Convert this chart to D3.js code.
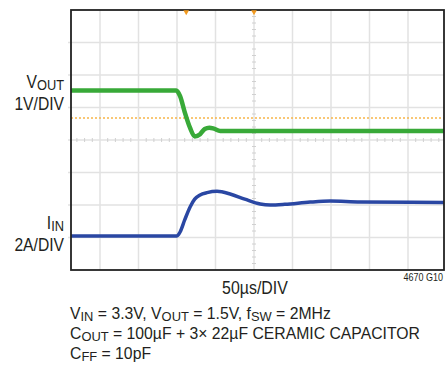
<!DOCTYPE html>
<html>
<head>
<meta charset="utf-8">
<script src="https://cdn.jsdelivr.net/npm/d3@7"></script>
<style>
  body { margin: 0; background: #fff; }
  text { font-family: "Liberation Sans", Arial, sans-serif; fill: #231f20; }
</style>
</head>
<body>
<div id="chart"></div>
<script>
// time in µs (50µs/DIV), trace levels in screen divisions (VOUT 1V/DIV, IIN 2A/DIV)
const voutTime = [0, 149, 154, 160, 167, 173, 180, 186, 192, 198, 206, 300, 500];
const voutDiv  = [5.52, 5.52, 5.35, 4.86, 4.37, 4.11, 4.18, 4.34, 4.38, 4.35, 4.28, 4.28, 4.28];

const iinTime = [0, 150, 154, 160, 167, 173, 180, 189, 202, 219, 238, 258, 271, 290, 323, 349, 388, 500];
const iinDiv  = [1.05, 1.05, 1.17, 1.54, 1.94, 2.18, 2.31, 2.38, 2.42, 2.34, 2.18, 2.03, 2.0, 2.02, 2.09, 2.12, 2.09, 2.08];

const cursorTimes = [162, 250];
const refLevelDiv = 4.68;
const gridTimes = [50, 100, 150, 200, 250, 300, 350, 400, 450];
const gridDivs = [1, 2, 3, 4, 5, 6, 7];

const width = 448, height = 369;
const frame = { left: 71, right: 444, top: 10, bottom: 270 };

const svg = d3.select("#chart").append("svg")
  .attr("width", width)
  .attr("height", height);

const x = d3.scaleLinear().domain([0, 500]).range([61.5, 446.5]);
const y = d3.scaleLinear().domain([0, 8]).range([frame.bottom, frame.top]);

svg.append("clipPath").attr("id", "plot-clip")
  .append("rect")
  .attr("x", frame.left).attr("y", frame.top - 2)
  .attr("width", frame.right - frame.left).attr("height", frame.bottom - frame.top + 4);

// grid
const grid = svg.append("g").attr("stroke", "#e2e2e2").attr("stroke-width", 1.5);
grid.selectAll(".vg").data(gridTimes).enter().append("line")
  .attr("x1", d => x(d)).attr("x2", d => x(d))
  .attr("y1", frame.top).attr("y2", frame.bottom);
grid.selectAll(".hg").data(gridDivs).enter().append("line")
  .attr("x1", frame.left - 3).attr("x2", frame.right)
  .attr("y1", d => y(d)).attr("y2", d => y(d));

// minor ticks on the center lines
const minorT = d3.range(10, 500, 10).filter(d => d % 50 !== 0 && x(d) > frame.left);
const minorD = d3.range(0.2, 8, 0.2).filter(d => Math.abs(d - Math.round(d)) > 0.01);
const ticks = svg.append("g").attr("stroke", "#d0d0d0").attr("stroke-width", 1);
ticks.selectAll(".mt").data(minorT).enter().append("line")
  .attr("x1", d => x(d)).attr("x2", d => x(d))
  .attr("y1", y(4) - 2).attr("y2", y(4) + 2);
ticks.selectAll(".md").data(minorD).enter().append("line")
  .attr("x1", x(250) - 2).attr("x2", x(250) + 2)
  .attr("y1", d => y(d)).attr("y2", d => y(d));

// reference level
svg.append("line")
  .attr("x1", frame.left).attr("x2", frame.right)
  .attr("y1", y(refLevelDiv)).attr("y2", y(refLevelDiv))
  .attr("stroke", "#f7b548").attr("stroke-width", 1.5)
  .attr("stroke-dasharray", "2,2");

// traces
const line = d3.line().curve(d3.curveMonotoneX);
const traces = svg.append("g").attr("clip-path", "url(#plot-clip)").attr("fill", "none");

traces.append("path")
  .attr("d", line(voutTime.map((t, i) => [x(t), y(voutDiv[i])])))
  .attr("stroke", "#38a938").attr("stroke-width", 4.5);

traces.append("path")
  .attr("d", line(iinTime.map((t, i) => [x(t), y(iinDiv[i])])))
  .attr("stroke", "#2a47a3").attr("stroke-width", 3.5);

// frame
svg.append("rect")
  .attr("x", frame.left).attr("y", frame.top)
  .attr("width", frame.right - frame.left).attr("height", frame.bottom - frame.top)
  .attr("fill", "none").attr("stroke", "#222").attr("stroke-width", 1.8);

// cursor markers at top
svg.selectAll(".cursor").data(cursorTimes).enter().append("path")
  .attr("d", d3.symbol().type(d3.symbolTriangle).size(14))
  .attr("transform", d => `translate(${x(d)},${frame.top + 2}) rotate(180)`)
  .attr("fill", "#f29a1f");

// text helper: parts are [string, isSubscript]; narrowed with a horizontal scale
function addText(xPos, yPos, parts, size, sx, anchor) {
  const g = svg.append("g").attr("transform", `translate(${xPos},${yPos}) scale(${sx},1)`);
  const t = g.append("text").attr("font-size", size).attr("text-anchor", anchor || "start");
  let down = false;
  parts.forEach(p => {
    const s = t.append("tspan").text(p[0]);
    if (p[1]) {
      s.attr("font-size", size * 0.82);
      if (!down) s.attr("dy", 2);
      down = true;
    } else {
      s.attr("font-size", size);
      if (down) s.attr("dy", -2);
      down = false;
    }
  });
  return t;
}

// channel labels
addText(64, 88, [["V"], ["OUT", 1]], 18, 0.87, "end");
addText(64, 110, [["1V/DIV"]], 18, 0.87, "end");
addText(64, 228.5, [["I"], ["IN", 1]], 18, 0.87, "end");
addText(64, 251, [["2A/DIV"]], 18, 0.87, "end");

// x axis label
addText(255, 294, [["50µs/DIV"]], 18.5, 0.86, "middle");
addText(443, 281, [["4670 G10"]], 10, 0.9, "end");

// conditions
addText(70, 319, [["V"], ["IN", 1], [" = 3.3V, V"], ["OUT", 1], [" = 1.5V, f"], ["SW", 1], [" = 2MHz"]], 16.5, 0.955);
addText(70, 339, [["C"], ["OUT", 1], [" = 100µF + 3× 22µF CERAMIC CAPACITOR"]], 16.5, 0.955);
addText(70, 358.5, [["C"], ["FF", 1], [" = 10pF"]], 16.5, 0.955);
</script>
</body>
</html>
